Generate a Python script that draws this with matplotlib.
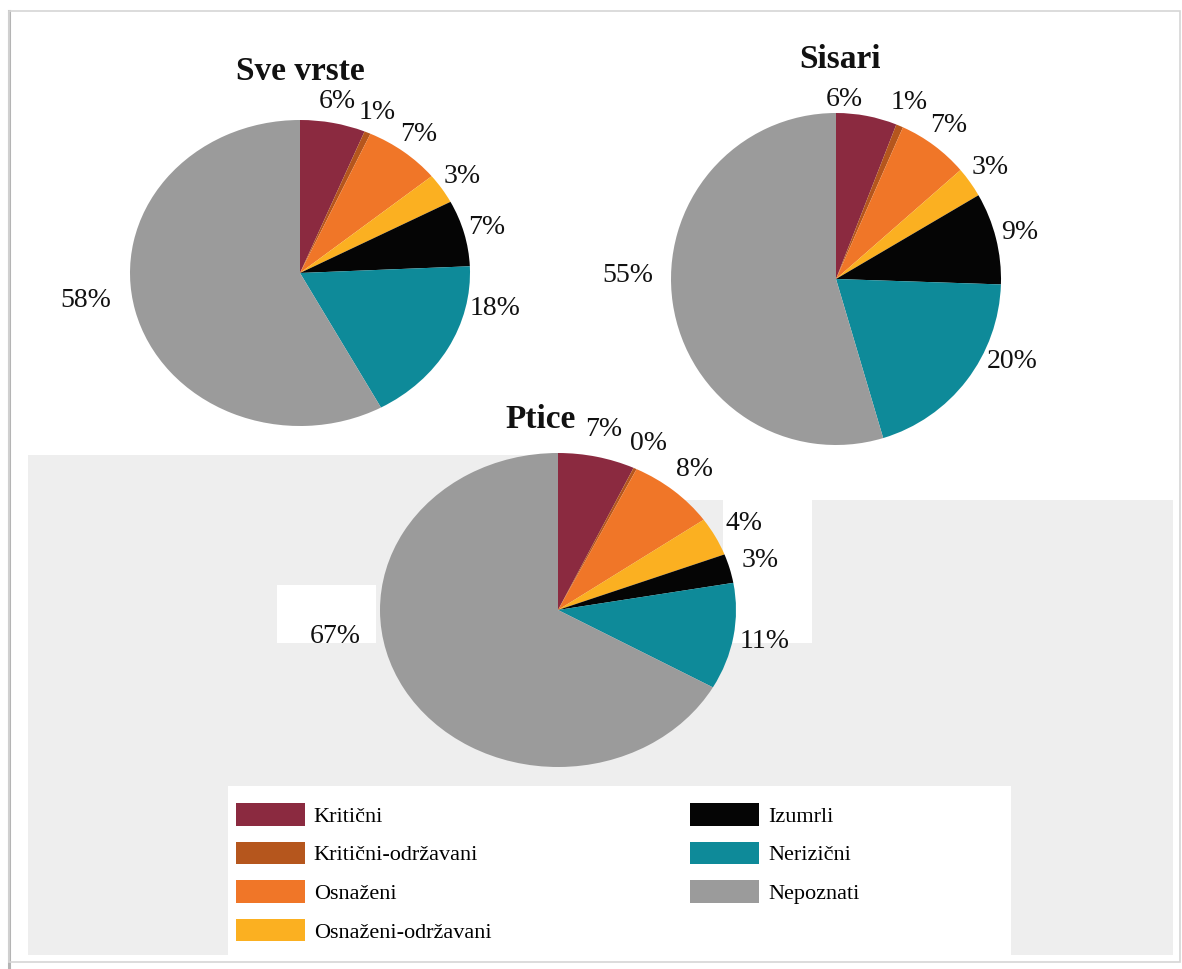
import numpy as np
import matplotlib
matplotlib.use("Agg")
import matplotlib.pyplot as plt
from matplotlib.patches import Rectangle

plt.rcParams['font.family'] = ['Liberation Serif', 'DejaVu Serif']

categories = ["Kritični", "Kritični-održavani", "Osnaženi", "Osnaženi-održavani",
              "Izumrli", "Nerizični", "Nepoznati"]
colors = ["#8b2a40", "#b5561d", "#f07628", "#fbb021", "#050505", "#0e8a99", "#9b9b9b"]

sve_vrste = [6.2, 0.6, 7.3, 3.2, 7.0, 17.8, 57.9]
sisari = [6.0, 0.7, 7.0, 3.0, 9.0, 20.0, 55.0]
ptice = [7.0, 0.3, 8.0, 4.0, 3.0, 11.0, 67.0]

W, H = 1182, 969
fig = plt.figure(figsize=(W / 100, H / 100), dpi=100)
fig.patch.set_facecolor("white")


def rect_px(x0, y0, x1, y1, color):
    # pixel box, measured from top-left
    fig.patches.append(Rectangle((x0 / W, 1 - y1 / H), (x1 - x0) / W, (y1 - y0) / H,
                                 transform=fig.transFigure, facecolor=color,
                                 edgecolor="none", zorder=-10))


# grey panel behind the bottom chart, with the white cut-outs of the original
rect_px(28, 455, 1173, 955, "#eeeeee")
rect_px(560, 455, 1173, 500, "white")
rect_px(723, 500, 812, 643, "white")
rect_px(277, 585, 376, 643, "white")
rect_px(228, 786, 1011, 955, "white")

# outer frame
fig.patches.append(Rectangle((9 / W, 1 - 962 / H), (1180 - 9) / W, (962 - 11) / H,
                             transform=fig.transFigure, facecolor="none",
                             edgecolor="#d6d6d6", lw=1.2, zorder=-5))
fig.add_artist(plt.Line2D([9.5 / W, 9.5 / W], [0, 1 - 11 / H], transform=fig.transFigure,
                          color="#b4b4b4", lw=2.2, zorder=-5))


def draw_pie(values, cx, cy, rx, ry, title, tx, ty, dist=1.16, moved=None):
    ax = fig.add_axes([(cx - 1.5 * rx) / W, 1 - (cy + 1.5 * ry) / H, 3 * rx / W, 3 * ry / H])
    ax.patch.set_alpha(0)
    labels = [f"{v:.0f}%" for v in values]
    wedges, texts = ax.pie(values, colors=colors, labels=labels, startangle=90,
                           counterclock=False, labeldistance=dist,
                           textprops=dict(fontsize=20, color="#111111"))
    for t in texts:
        t.set_ha("center")
    # labels that the original placed by hand
    for i, pos in (moved or {}).items():
        texts[i].set_position(pos)
    ax.set_aspect("auto")
    ax.set_xlim(-1.5, 1.5)
    ax.set_ylim(-1.5, 1.5)
    fig.text(tx / W, 1 - ty / H, title, ha="center", va="center",
             fontsize=24, fontweight="bold", color="#111111")
    return wedges


wedges = draw_pie(sve_vrste, 300, 273, 170, 153, "Sve vrste", 300, 72, dist=1.14,
                  moved={5: (1.15, -0.23), 6: (-1.26, -0.18)})
draw_pie(sisari, 836, 279, 165, 166, "Sisari", 840, 59, dist=1.15,
         moved={0: (0.05, 1.08), 5: (1.07, -0.50), 6: (-1.26, 0.02)})
draw_pie(ptice, 558, 610, 178, 157, "Ptice", 541, 420, dist=1.18,
         moved={6: (-1.25, -0.17)})

fig.legend(wedges, categories, ncol=2, loc="upper left",
           bbox_to_anchor=(216 / W, 1 - 783 / H), frameon=False,
           fontsize=16, handlelength=3.1, handleheight=1.2,
           labelspacing=0.66, columnspacing=8.95, handletextpad=0.4)

fig.savefig("out.png", dpi=100)
